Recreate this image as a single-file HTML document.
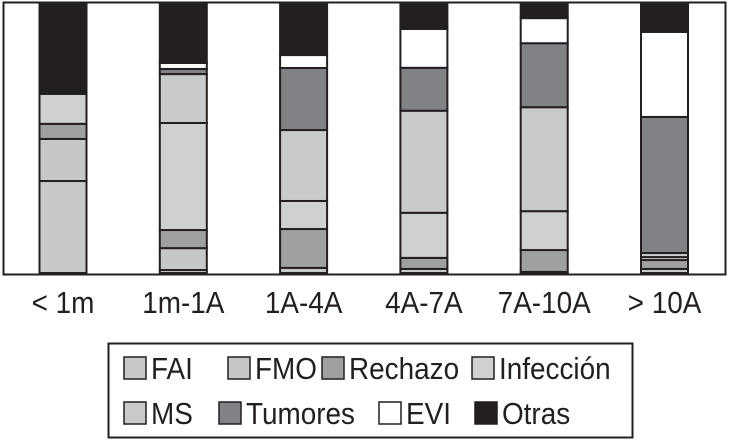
<!DOCTYPE html>
<html><head><meta charset="utf-8"><style>
html,body{margin:0;padding:0;background:#fff;}
svg text{font-family:"Liberation Sans",sans-serif;fill:#231f20;}
</style></head><body>
<svg id="chart" width="730" height="441" viewBox="0 0 730 441" xmlns="http://www.w3.org/2000/svg">
<rect x="3.5" y="2.5" width="722" height="272" fill="#fff" stroke="#231f20" stroke-width="2"/>
<g id="bars"></g>
<g id="xlabels"></g>
<rect x="108.5" y="343.5" width="524" height="94" fill="#fff" stroke="#231f20" stroke-width="2"/>
<g id="legend"></g>
</svg>
<script>
const categories = ["< 1m","1m-1A","1A-4A","4A-7A","7A-10A","> 10A"];
const seriesNames = ["FAI","FMO","Rechazo","Infección","MS","Tumores","EVI","Otras"];
const FAI       = [34.1, 1.1, 1.9, 1.5, 0.4, 1.5];
const FMO       = [15.6, 8.1, 0, 0, 0, 0];
const Rechazo   = [5.6, 6.7, 14.4, 4.1, 8.1, 3.3];
const Infeccion = [11.1, 39.6, 10.4, 16.7, 14.4, 1.1];
const MS        = [0, 18.1, 26.3, 37.8, 38.5, 1.5];
const Tumores   = [0, 1.9, 23.0, 15.9, 23.7, 50.4];
const EVI       = [0, 2.2, 4.8, 14.4, 9.3, 31.5];
const Otras     = [33.7, 22.2, 19.3, 9.6, 5.6, 10.7];
const seriesValues = [FAI, FMO, Rechazo, Infeccion, MS, Tumores, EVI, Otras];
const colors = ["#c8c9cb","#c6c7c9","#9fa0a2","#cfd0d2","#c9cacc","#808285","#ffffff","#231f20"];

const NS = "http://www.w3.org/2000/svg";
const plotTop = 3, plotBottom = 273, barW = 47;
function xCenter(i){ return 63 + i * 120.3; }
function yScale(v){ return plotBottom - v / 100 * (plotBottom - plotTop); }

const bars = document.getElementById("bars");
categories.forEach((c, i) => {
  let total = 0; seriesValues.forEach(s => total += s[i]);
  let cum = 0;
  seriesValues.forEach((s, k) => {
    const v = s[i] / total * 100;
    if (v <= 0) return;
    const y1 = yScale(cum), y0 = yScale(cum + v);
    cum += v;
    const r = document.createElementNS(NS, "rect");
    r.setAttribute("x", xCenter(i) - barW / 2);
    r.setAttribute("y", y0);
    r.setAttribute("width", barW);
    r.setAttribute("height", y1 - y0);
    r.setAttribute("fill", colors[k]);
    r.setAttribute("stroke", "#231f20");
    r.setAttribute("stroke-width", "2");
    
    
    bars.appendChild(r);
  });
});

const xl = document.getElementById("xlabels");
categories.forEach((c, i) => {
  const t = document.createElementNS(NS, "text");
  const cx = xCenter(i);
  t.setAttribute("x", cx);
  t.setAttribute("y", 313);
  t.setAttribute("text-anchor", "middle");
  t.setAttribute("font-size", "31");
  t.setAttribute("transform", `translate(${cx},0) scale(0.9,1) translate(${-cx},0)`);
  t.textContent = c;
  
  
  xl.appendChild(t);
});

const legendPos = [[124,357],[228,357],[322,357],[472,357],[124,402],[219,402],[379,402],[475,402]];
const lg = document.getElementById("legend");
seriesNames.forEach((n, k) => {
  const g = document.createElementNS(NS, "g");
  
  
  const [x, y] = legendPos[k];
  const r = document.createElementNS(NS, "rect");
  r.setAttribute("x", x); r.setAttribute("y", y);
  r.setAttribute("width", 22); r.setAttribute("height", 22);
  r.setAttribute("fill", colors[k]); r.setAttribute("stroke", "#231f20"); r.setAttribute("stroke-width", "1.5");
  g.appendChild(r);
  const t = document.createElementNS(NS, "text");
  const tx = x + 27;
  t.setAttribute("x", tx); t.setAttribute("y", y + 22);
  t.setAttribute("font-size", "31");
  t.setAttribute("transform", `translate(${tx},0) scale(0.9,1) translate(${-tx},0)`);
  t.textContent = n;
  g.appendChild(t);
  lg.appendChild(g);
});
</script>
</body></html>
